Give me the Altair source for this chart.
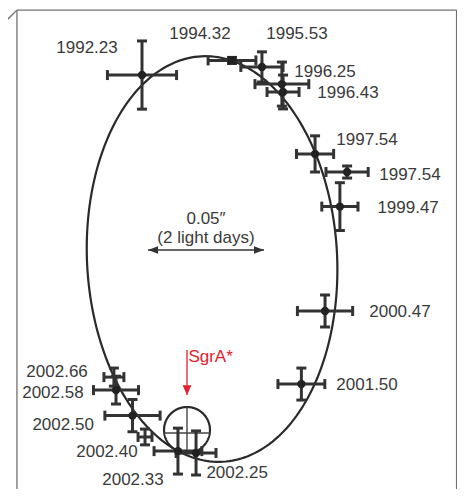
import altair as alt
import numpy as np
import pandas as pd

# S2 astrometric positions, offsets from SgrA* in milliarcseconds (x right, y up)
epochs = ["1992.23", "1994.32", "1995.53", "1996.25", "1996.43", "1997.54", "1997.54",
          "1999.47", "2000.47", "2001.50", "2002.25", "2002.33", "2002.40", "2002.50",
          "2002.58", "2002.66"]
pos_x = [-19.4, 19.4, 32.3, 40.9, 41.4, 55.2, 69.0, 65.9, 59.5, 49.3, 3.9, -3.9, -18.1, -23.5, -30.6, -31.5]
pos_y = [153.0, 159.3, 156.5, 149.1, 145.7, 119.0, 111.2, 96.3, 51.3, 19.8, -9.9, -9.1, -3.0, 6.2, 17.2, 22.8]
err_x = [14.9, 10.3, 9.1, 11.6, 6.9, 8.0, 9.1, 7.8, 11.9, 10.1, 8.6, 10.3, 3.0, 11.9, 9.7, 4.3]
err_y = [14.7, 1.3, 6.5, 9.5, 7.3, 7.8, 2.6, 10.3, 6.9, 6.9, 9.5, 9.9, 3.4, 6.9, 6.0, 3.9]
markers = ["circle", "square", "circle", "circle", "circle", "circle", "circle", "circle",
           "circle", "circle", "circle", "circle", "none", "circle", "circle", "none"]
label_x = [-43.1, 5.6, 47.4, 59.5, 69.4, 77.6, 96.1, 95.3, 91.8, 77.6, 21.6, -23.3, -34.5, -53.4, -57.8, -56.0]
label_y = [164.6, 170.7, 170.7, 154.3, 145.2, 125.0, 109.9, 95.7, 50.9, 19.4, -18.5, -21.6, -9.5, 2.2, 15.9, 25.0]

# Orbit (ellipse) parameters, mas / degrees
orbit_center = (10.8, 73.7)
orbit_a, orbit_b, orbit_tilt = 53.9, 87.5, 3.0
# SgrA* marker circle
sgr_radius = 9.9
# scale bar: 0.05" = 50 mas
bar_x = [-16.8, 33.2]
bar_y = 77.6

# frame segments (x, y, x2, y2)
frame_x = [-73.3, -73.3, 116.2, -73.3, -80.6]
frame_y = [-30.0, 181.0, 181.0, 181.0, -22.8]
frame_x2 = [-73.3, 116.2, 116.2, -80.6, -75.0]
frame_y2 = [181.0, 181.0, -30.0, 173.7, -28.9]

xs = alt.Scale(domain=[-77.16, 116.38], nice=False, zero=False)
ys = alt.Scale(domain=[-25.43, 181.90], nice=False, zero=False)


def X(f):
    return alt.X(f, type="quantitative", scale=xs, axis=None)


def Y(f):
    return alt.Y(f, type="quantitative", scale=ys, axis=None)


INK = "#333333"
TXT = "#3a3a3a"
RED = "#e5202e"
FONT = "Liberation Sans"

pts = pd.DataFrame({"epoch": epochs, "x": pos_x, "y": pos_y, "ex": err_x, "ey": err_y,
                    "marker": markers, "lx": label_x, "ly": label_y})
pts["xlo"] = pts.x - pts.ex
pts["xhi"] = pts.x + pts.ex
pts["ylo"] = pts.y - pts.ey
pts["yhi"] = pts.y + pts.ey

xcaps = pd.DataFrame({"x": list(pts.xlo) + list(pts.xhi), "y": list(pts.y) * 2})
ycaps = pd.DataFrame({"x": list(pts.x) * 2, "y": list(pts.ylo) + list(pts.yhi)})

t = np.linspace(0, 2 * np.pi, 241)
phi = np.deg2rad(orbit_tilt)
ell = pd.DataFrame({
    "x": orbit_center[0] + orbit_a * np.cos(t) * np.cos(phi) - orbit_b * np.sin(t) * np.sin(phi),
    "y": orbit_center[1] + orbit_a * np.cos(t) * np.sin(phi) + orbit_b * np.sin(t) * np.cos(phi),
    "i": np.arange(len(t)),
})
circ = pd.DataFrame({"x": sgr_radius * np.cos(t), "y": sgr_radius * np.sin(t), "i": np.arange(len(t))})

frame = pd.DataFrame({"x": frame_x, "y": frame_y, "x2": frame_x2, "y2": frame_y2})

frame_layer = alt.Chart(frame).mark_rule(color="#707070", strokeWidth=1.3, clip=True).encode(
    x=X("x"), y=Y("y"), x2="x2", y2="y2")

orbit_layer = alt.Chart(ell).mark_line(color="#2a2a2a", strokeWidth=2.2).encode(
    x=X("x"), y=Y("y"), order="i:Q")

circ_layer = alt.Chart(circ).mark_line(color="#2a2a2a", strokeWidth=2.2).encode(
    x=X("x"), y=Y("y"), order="i:Q")

cross = pd.DataFrame({"x": [0.0, -sgr_radius], "y": [-sgr_radius, -1.3],
                      "x2": [0.0, sgr_radius], "y2": [sgr_radius, -1.3]})
cross_layer = alt.Chart(cross).mark_rule(color="#444", strokeWidth=1.4).encode(
    x=X("x"), y=Y("y"), x2="x2", y2="y2")

xbar = alt.Chart(pts).mark_rule(color=INK, strokeWidth=3, opacity=1).encode(x=X("xlo"), x2="xhi", y=Y("y"))
ybar = alt.Chart(pts).mark_rule(color=INK, strokeWidth=3, opacity=1).encode(x=X("x"), y=Y("ylo"), y2="yhi")
xcap_layer = alt.Chart(xcaps).mark_tick(orient="vertical", color=INK, size=10, thickness=3,
                                        opacity=1).encode(x=X("x"), y=Y("y"))
ycap_layer = alt.Chart(ycaps).mark_tick(orient="horizontal", color=INK, size=10, thickness=3,
                                        opacity=1).encode(x=X("x"), y=Y("y"))

point_layer = alt.Chart(pts).transform_filter(alt.datum.marker != "none").mark_point(
    filled=True, color="#222", opacity=1, size=70).encode(
    x=X("x"), y=Y("y"), shape=alt.Shape("marker:N", scale=None))

label_layer = alt.Chart(pts).mark_text(font=FONT, fontSize=17, color=TXT, align="center",
                                       baseline="middle").encode(
    x=X("lx"), y=Y("ly"), text="epoch:N")

# scale bar
sbar = pd.DataFrame({"x": [bar_x[0]], "x2": [bar_x[1]], "y": [bar_y]})
sbar_layer = alt.Chart(sbar).mark_rule(color=INK, strokeWidth=1.6).encode(x=X("x"), x2="x2", y=Y("y"))
heads = pd.DataFrame({"x": bar_x, "y": [bar_y, bar_y],
                      "shape": ["M0,0L1,-0.38L1,0.38Z", "M0,0L-1,-0.38L-1,0.38Z"]})
heads_layer = alt.Chart(heads).mark_point(filled=True, color=INK, opacity=1, size=400,
                                          strokeWidth=0).encode(
    x=X("x"), y=Y("y"), shape=alt.Shape("shape:N", scale=None))
stext = pd.DataFrame({"x": [8.2, 8.2], "y": [90.9, 82.8], "t": ["0.05\u2033", "(2 light days)"]})
stext_layer = alt.Chart(stext).mark_text(font=FONT, fontSize=17, color=TXT, baseline="middle").encode(
    x=X("x"), y=Y("y"), text="t:N")

# SgrA* arrow
sgr = pd.DataFrame({"x": [0.0], "y": [34.5], "y2": [15.1]})
sgr_line = alt.Chart(sgr).mark_rule(color=RED, strokeWidth=1.3).encode(x=X("x"), y=Y("y"), y2="y2")
sgr_head = alt.Chart(sgr).mark_point(filled=True, color=RED, opacity=1, size=380, strokeWidth=0,
                                     shape="M0,0L-0.45,-1L0.45,-1Z").encode(x=X("x"), y=Y("y2"))
sgr_text = alt.Chart(pd.DataFrame({"x": [0.6], "y": [31.5], "t": ["SgrA*"]})).mark_text(
    font=FONT, fontSize=17, color=RED, align="left", baseline="middle").encode(
    x=X("x"), y=Y("y"), text="t:N")

chart = alt.layer(
    frame_layer, orbit_layer, circ_layer, cross_layer,
    xbar, ybar, xcap_layer, ycap_layer, point_layer, label_layer,
    sbar_layer, heads_layer, stext_layer, sgr_line, sgr_head, sgr_text,
).properties(
    width=449, height=481, padding=0, autosize="none", background="white"
).configure_view(stroke=None)

chart.save("out.html", embed_options={"renderer": "svg", "actions": False})
